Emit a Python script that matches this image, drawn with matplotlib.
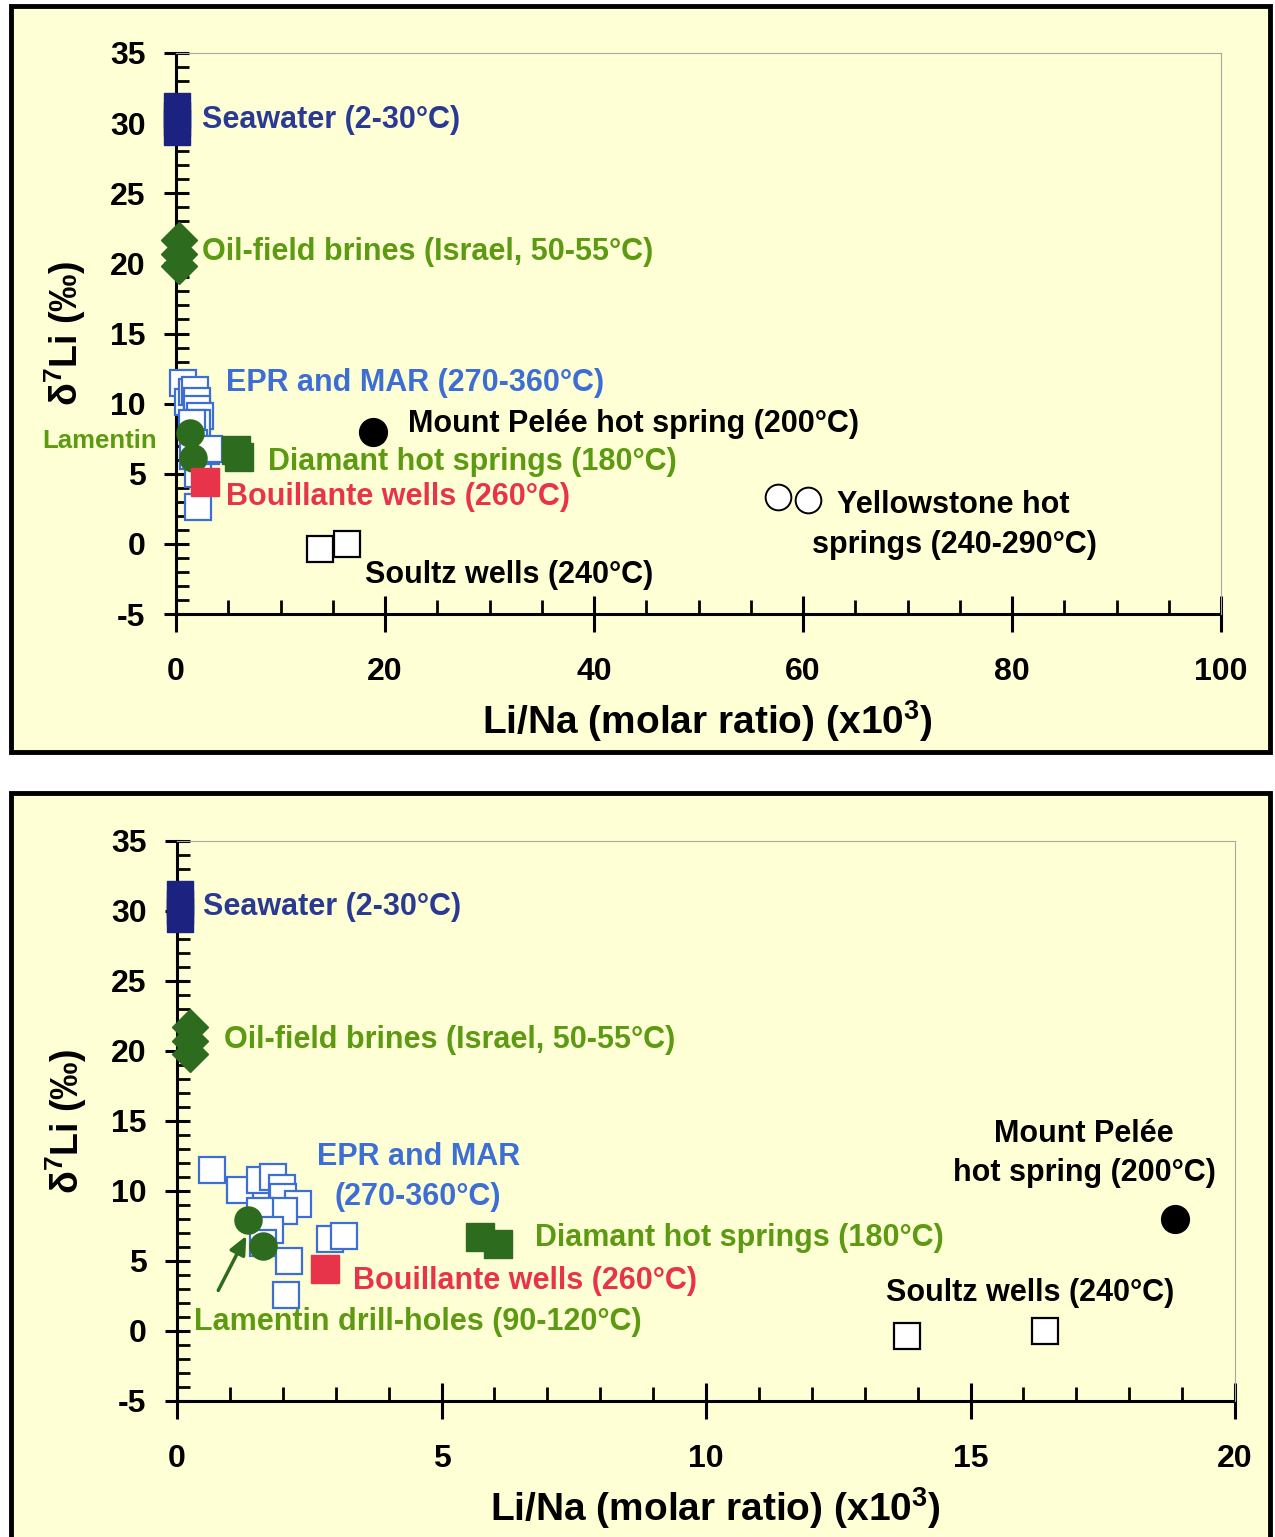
import numpy as np
import matplotlib.pyplot as plt
from matplotlib.patches import Rectangle
from matplotlib.ticker import MultipleLocator

plt.rcParams['font.family'] = ['Liberation Sans', 'DejaVu Sans']
plt.rcParams['font.weight'] = 'bold'
plt.rcParams['mathtext.default'] = 'regular'
plt.rcParams['axes.unicode_minus'] = False

# data: Li/Na (x10^3), d7Li (permil)
sea_x = [0.05, 0.05, 0.05, 0.05]
sea_y = [29.4, 30.0, 30.6, 31.2]
oil_x = [0.25, 0.25, 0.25]
oil_y = [21.7, 20.7, 19.8]
epr_x = [0.67, 1.19, 1.57, 1.81, 1.98, 2.00, 2.29, 2.02, 1.57, 1.76, 1.63, 2.12, 2.06, 2.89, 3.16]
epr_y = [11.5, 10.1, 10.8, 11.0, 10.2, 9.6, 9.1, 8.6, 8.6, 7.2, 6.3, 5.0, 2.6, 6.6, 6.8]
lam_x = [1.34, 1.63]
lam_y = [7.9, 6.1]
bou_x = [2.8]
bou_y = [4.4]
dia_x = [5.73, 6.07]
dia_y = [6.7, 6.2]
pelee_x = [18.87]
pelee_y = [8.0]
soultz_x = [13.8, 16.4]
soultz_y = [-0.35, 0.0]
yell_x = [57.6, 60.5]
yell_y = [3.35, 3.1]

bg = '#FFFFD6'
navy = '#1C2280'
navy_t = '#2A3A92'
dgreen = '#2D6B1E'
lgreen = '#5C9A12'
blue = '#3D6ED4'
red = '#E8344B'

W, H = 1275, 1537
fig = plt.figure(figsize=(W / 100, H / 100), dpi=100)
fig.patch.set_facecolor('white')


def px_rect(x0, y0, x1, y1):
    r = Rectangle((x0 / W, 1 - y1 / H), (x1 - x0) / W, (y1 - y0) / H,
                  transform=fig.transFigure, facecolor=bg, edgecolor='black',
                  lw=3.5, zorder=-5)
    fig.add_artist(r)


px_rect(11, 6, 1270, 752)
px_rect(11, 793, 1270, 1545)


def make_axes(x0, y0, x1, y1, xmax, xmaj, xmin):
    ax = fig.add_axes([x0 / W, 1 - y1 / H, (x1 - x0) / W, (y1 - y0) / H])
    ax.set_facecolor('none')
    ax.set_xlim(0, xmax)
    ax.set_ylim(-5, 35)
    ax.xaxis.set_major_locator(MultipleLocator(xmaj))
    ax.xaxis.set_minor_locator(MultipleLocator(xmin))
    ax.yaxis.set_major_locator(MultipleLocator(5))
    ax.yaxis.set_minor_locator(MultipleLocator(1))
    for s in ['left', 'bottom']:
        ax.spines[s].set_linewidth(2.2)
        ax.spines[s].set_zorder(1)
    for s in ['top', 'right']:
        ax.spines[s].set_linewidth(0.8)
        ax.spines[s].set_color('#A8A8A0')
    ax.tick_params(top=False, right=False, labelsize=23)
    ax.tick_params(axis='y', which='major', direction='inout', length=18, width=2.2, pad=13)
    ax.tick_params(axis='y', which='minor', direction='in', length=9, width=2)
    ax.tick_params(axis='x', which='major', direction='inout', length=26, width=2.2, pad=18)
    ax.tick_params(axis='x', which='minor', direction='in', length=10, width=2)
    for lab in ax.get_xticklabels() + ax.get_yticklabels():
        lab.set_fontweight('bold')
    ax.set_xlabel('Li/Na (molar ratio) (x10$^3$)', fontsize=28, fontweight='bold', labelpad=4)
    ax.xaxis.set_label_coords(0.5 + 9 / (x1 - x0), -0.15)
    ax.set_ylabel('δ$^7$Li (‰)', fontsize=27, fontweight='bold', labelpad=16)
    return ax


def draw_points(ax):
    kw = dict(linestyle='none', clip_on=False)
    ax.plot(sea_x, sea_y, marker='s', ms=19, mfc=navy, mec=navy, zorder=5, **kw)
    ax.plot(oil_x, oil_y, marker='D', ms=18, mfc=dgreen, mec=dgreen, zorder=5, **kw)
    ax.plot(epr_x, epr_y, marker='s', ms=18.5, mfc='white', mec=blue, mew=1.6, zorder=4, **kw)
    ax.plot(lam_x, lam_y, marker='o', ms=19.5, mfc=dgreen, mec=dgreen, zorder=6, **kw)
    ax.plot(bou_x, bou_y, marker='s', ms=20.5, mfc=red, mec=red, zorder=6, **kw)
    ax.plot(dia_x, dia_y, marker='s', ms=20.5, mfc=dgreen, mec=dgreen, zorder=5, **kw)
    ax.plot(pelee_x, pelee_y, marker='o', ms=20, mfc='black', mec='black', zorder=5, **kw)
    ax.plot(soultz_x, soultz_y, marker='s', ms=18.5, mfc='white', mec='black', mew=1.6, zorder=5, **kw)
    ax.plot(yell_x, yell_y, marker='o', ms=18.5, mfc='white', mec='black', mew=1.4, zorder=5, **kw)


tk = dict(fontsize=22, fontweight='bold', va='center', clip_on=False)

# top panel
ax1 = make_axes(176, 53, 1221, 614, 100, 20, 5)
draw_points(ax1)
ax1.text(2.5, 30.2, 'Seawater (2-30°C)', color=navy_t, **tk)
ax1.text(2.5, 20.8, 'Oil-field brines (Israel, 50-55°C)', color=lgreen, **tk)
ax1.text(4.8, 11.5, 'EPR and MAR (270-360°C)', color=blue, **tk)
ax1.text(22.2, 8.55, 'Mount Pelée hot spring (200°C)', color='black', **tk)
ax1.text(-12.8, 7.3, 'Lamentin', color=lgreen, fontsize=18.5, fontweight='bold',
         va='center', clip_on=False)
ax1.text(8.8, 5.85, 'Diamant hot springs (180°C)', color=lgreen, **tk)
ax1.text(4.8, 3.35, 'Bouillante wells (260°C)', color=red, **tk)
ax1.text(63.3, 2.8, 'Yellowstone hot', color='black', **tk)
ax1.text(60.9, -0.07, 'springs (240-290°C)', color='black', **tk)
ax1.text(18.1, -2.2, 'Soultz wells (240°C)', color='black', **tk)

# bottom panel
ax2 = make_axes(177, 841, 1235, 1401, 20, 5, 1)
draw_points(ax2)
ax2.text(0.49, 30.3, 'Seawater (2-30°C)', color=navy_t, **tk)
ax2.text(0.89, 20.8, 'Oil-field brines (Israel, 50-55°C)', color=lgreen, **tk)
ax2.text(4.56, 12.4, 'EPR and MAR', color=blue, ha='center', **tk)
ax2.text(4.56, 9.6, '(270-360°C)', color=blue, ha='center', **tk)
ax2.text(17.15, 14.07, 'Mount Pelée', color='black', ha='center', **tk)
ax2.text(17.15, 11.3, 'hot spring (200°C)', color='black', ha='center', **tk)
ax2.text(6.77, 6.64, 'Diamant hot springs (180°C)', color=lgreen, **tk)
ax2.text(3.33, 3.57, 'Bouillante wells (260°C)', color=red, **tk)
ax2.text(13.4, 2.7, 'Soultz wells (240°C)', color='black', **tk)
ax2.text(0.32, 0.64, 'Lamentin drill-holes (90-120°C)', color=lgreen, **tk)
ax2.annotate('', xy=(1.31, 6.8), xytext=(0.78, 2.9),
             arrowprops=dict(arrowstyle='-|>,head_length=1.1,head_width=0.5',
                             color=dgreen, lw=2.5, shrinkA=0, shrinkB=0), zorder=7)

fig.savefig('out.png', dpi=100, facecolor=fig.get_facecolor())
